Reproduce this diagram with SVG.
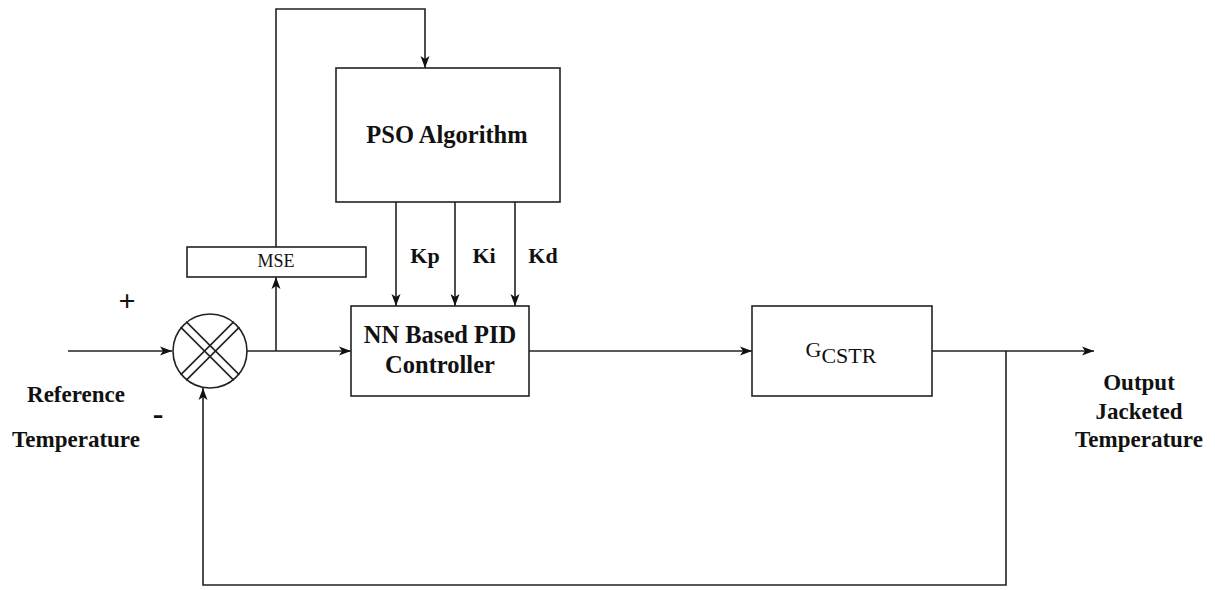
<svg xmlns="http://www.w3.org/2000/svg" width="1215" height="590" viewBox="0 0 1215 590">
<defs>
<marker id="ah" viewBox="0 0 12 10" refX="12" refY="5" markerWidth="12" markerHeight="10" markerUnits="userSpaceOnUse" orient="auto">
<path d="M0,0.5 L12,5 L0,9.5 L3,5 Z" fill="#111"/>
</marker>
<style>
.box{fill:#fff;stroke:#222;stroke-width:1.6}
.ln{fill:none;stroke:#222;stroke-width:1.6}
.arr{fill:none;stroke:#222;stroke-width:1.6;marker-end:url(#ah)}
.t{font-family:"Liberation Serif","Times New Roman",serif;font-weight:bold;fill:#111;text-anchor:middle}
.r{font-family:"Liberation Serif","Times New Roman",serif;fill:#111;text-anchor:middle}
</style>
</defs>
<rect width="1215" height="590" fill="#fff"/>
<g id="connectors">
<path class="arr" d="M276,247 L276,9 L425,9 L425,68"/>
<path class="arr" d="M396,202 L396,306"/>
<path class="arr" d="M455,202 L455,306"/>
<path class="arr" d="M515,202 L515,306"/>
<path class="arr" d="M68,351 L172,351"/>
<path class="arr" d="M247,351 L351,351"/>
<path class="arr" d="M276,351 L276,277"/>
<path class="arr" d="M529,351 L752,351"/>
<path class="arr" d="M932,351 L1094,351"/>
<path class="arr" d="M1006,351 L1006,585 L203,585 L203,388"/>
</g>
<g id="pso">
<rect class="box" x="336" y="68" width="224" height="134"/>
<text class="t" x="447" y="143" font-size="24.5">PSO Algorithm</text>
</g>
<g id="mse">
<rect class="box" x="187" y="247" width="179" height="30"/>
<text class="r" x="276" y="267" font-size="18">MSE</text>
</g>
<g id="gains">
<text class="t" x="425" y="263" font-size="22">Kp</text>
<text class="t" x="484" y="263" font-size="22">Ki</text>
<text class="t" x="543" y="263" font-size="22">Kd</text>
</g>
<g id="sum">
<circle class="box" cx="210" cy="351" r="37"/>
<g class="ln" stroke-width="1.2">
<line x1="186.1" y1="321.6" x2="239.4" y2="374.9"/>
<line x1="180.6" y1="327.1" x2="233.9" y2="380.4"/>
<line x1="233.9" y1="321.6" x2="180.6" y2="374.9"/>
<line x1="239.4" y1="327.1" x2="186.1" y2="380.4"/>
</g>
<text class="t" x="127" y="311" font-size="30">+</text>
<text class="t" x="158" y="424" font-size="32">-</text>
</g>
<g id="nn">
<rect class="box" x="351" y="306" width="178" height="90"/>
<text class="t" x="440" y="343" font-size="24.5">NN Based PID</text>
<text class="t" x="440" y="373" font-size="24.5">Controller</text>
</g>
<g id="gcstr">
<rect class="box" x="752" y="306" width="180" height="90"/>
<text class="r" x="841" y="357" font-size="22">G<tspan dy="6">CSTR</tspan></text>
</g>
<g id="ref-label">
<text class="t" x="76" y="402" font-size="23">Reference</text>
<text class="t" x="76" y="447" font-size="23">Temperature</text>
</g>
<g id="out-label">
<text class="t" x="1139" y="390" font-size="23">Output</text>
<text class="t" x="1139" y="419" font-size="23">Jacketed</text>
<text class="t" x="1139" y="447" font-size="23">Temperature</text>
</g>
</svg>
